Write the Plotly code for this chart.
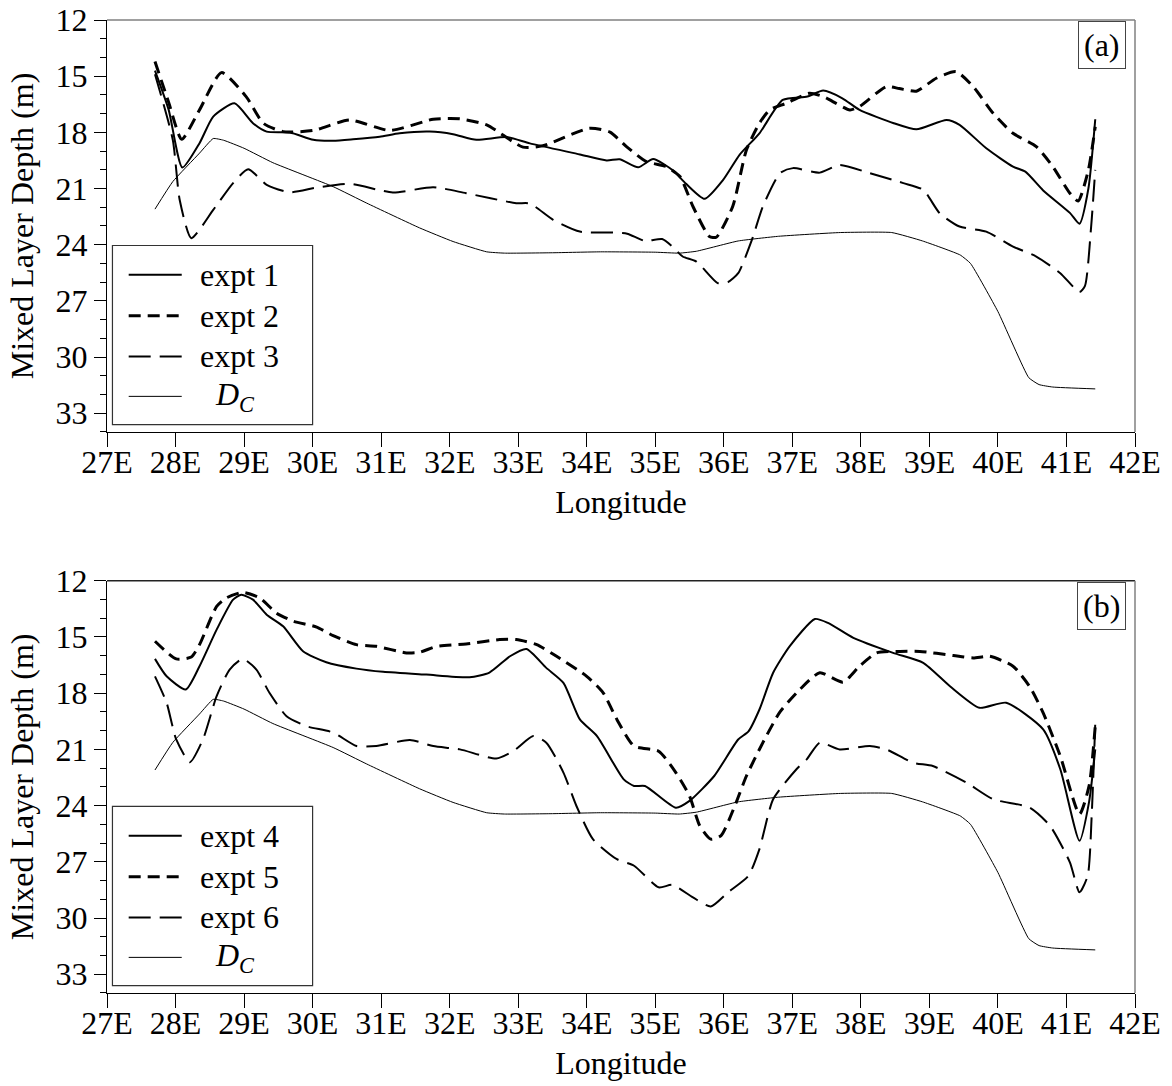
import plotly.graph_objects as go

# ---------------- data ----------------
lon_ticks = list(range(27, 43))
lon_tick_labels = [f"{v}E" for v in lon_ticks]
depth_ticks = [12, 15, 18, 21, 24, 27, 30, 33]

dc_lon = [27.70, 27.96, 28.35, 28.55, 28.70, 29.00, 29.42, 30.30, 30.79, 31.56, 32.05, 32.54, 32.80,
          33.50, 34.20, 35.00, 35.35, 35.60, 36.21, 36.80, 37.70, 38.45, 38.90, 39.45, 39.60, 40.00,
          40.45, 40.60, 40.80, 41.42]
dc_depth = [22.10, 20.63, 19.11, 18.33, 18.42, 18.85, 19.62, 20.90, 21.78, 23.10, 23.83, 24.38, 24.45,
            24.43, 24.38, 24.40, 24.45, 24.35, 23.80, 23.55, 23.35, 23.35, 23.80, 24.55, 25.00, 27.57,
            31.10, 31.47, 31.60, 31.70]

expt1_lon = [27.70, 27.90, 28.10, 28.35, 28.55, 28.86, 29.13, 29.33, 29.67, 30.01, 30.30, 30.59, 30.98,
             31.27, 31.71, 32.05, 32.39, 32.83, 33.17, 33.90, 34.29, 34.48, 34.75, 34.97, 35.26, 35.45,
             35.72, 35.99, 36.23, 36.52, 36.86, 37.22, 37.45, 37.73, 37.98, 38.48, 38.81, 39.25, 39.44,
             39.83, 40.22, 40.40, 40.66, 41.05, 41.19, 41.32, 41.42]
expt1_depth = [14.70, 16.80, 19.88, 18.58, 17.16, 16.45, 17.51, 17.96, 18.01, 18.40, 18.45, 18.37, 18.23,
               18.05, 17.96, 18.10, 18.40, 18.25, 18.59, 19.18, 19.50, 19.44, 19.87, 19.42, 20.04, 20.75,
               21.55, 20.54, 19.20, 18.05, 16.27, 16.09, 15.77, 16.18, 16.80, 17.51, 17.84, 17.34, 17.60,
               18.85, 19.83, 20.10, 21.10, 22.30, 22.88, 21.00, 17.30]

expt2_lon = [27.70, 27.90, 28.09, 28.35, 28.67, 29.03, 29.28, 29.57, 30.01, 30.54, 31.13, 31.76, 32.15,
             32.54, 33.07, 33.36, 34.04, 34.34, 34.58, 34.87, 35.16, 35.36, 35.55, 35.79, 35.89, 36.13,
             36.33, 36.52, 36.67, 36.91, 37.25, 37.45, 37.84, 37.98, 38.37, 38.56, 38.81, 39.10, 39.39,
             39.64, 39.93, 40.22, 40.56, 40.80, 41.05, 41.17, 41.32, 41.42]
expt2_depth = [14.22, 16.40, 18.37, 16.80, 14.81, 16.09, 17.51, 17.96, 17.90, 17.34, 17.90, 17.30, 17.28,
               17.60, 18.79, 18.72, 17.78, 17.99, 18.76, 19.56, 19.83, 20.36, 21.96, 23.56, 23.60, 21.96,
               18.94, 17.51, 16.80, 16.45, 15.91, 16.09, 16.80, 16.62, 15.56, 15.66, 15.80, 15.11, 14.76,
               15.56, 16.98, 18.05, 18.76, 19.83, 21.25, 21.67, 20.00, 17.70]

expt3_lon = [27.70, 27.96, 28.06, 28.23, 28.55, 28.84, 29.06, 29.33, 29.67, 30.06, 30.54, 31.17, 31.76,
             32.24, 32.97, 33.17, 33.51, 33.90, 34.38, 34.59, 34.85, 35.10, 35.25, 35.40, 35.60, 35.91,
             36.06, 36.21, 36.41, 36.57, 36.82, 37.01, 37.40, 37.69, 38.13, 38.62, 38.91, 39.15, 39.44,
             39.83, 40.22, 40.56, 40.91, 41.19, 41.27, 41.36, 41.42]
expt3_depth = [14.90, 18.40, 21.60, 23.65, 22.14, 20.71, 19.97, 20.80, 21.20, 20.95, 20.75, 21.21, 20.93,
               21.25, 21.78, 21.80, 22.67, 23.30, 23.35, 23.41, 23.80, 23.70, 24.10, 24.63, 24.90, 26.05,
               26.00, 25.52, 23.74, 21.96, 20.18, 19.91, 20.15, 19.74, 20.18, 20.71, 21.07, 22.32, 23.03,
               23.30, 24.10, 24.63, 25.52, 26.53, 26.20, 23.03, 20.00]

expt4_lon = [27.70, 27.87, 28.15, 28.35, 28.60, 28.84, 28.96, 29.13, 29.33, 29.57, 29.86, 30.20, 30.64,
             31.03, 31.66, 32.29, 32.58, 32.88, 33.12, 33.41, 33.66, 33.90, 34.15, 34.54, 34.69, 34.85,
             35.30, 35.50, 35.86, 36.21, 36.36, 36.52, 36.72, 36.96, 37.33, 37.52, 37.89, 38.47, 38.91,
             39.30, 39.73, 40.12, 40.66, 40.91, 41.19, 41.33, 41.42]
expt4_depth = [16.17, 17.10, 17.80, 16.56, 14.61, 13.01, 12.75, 13.01, 13.81, 14.43, 15.76, 16.35, 16.69,
               16.86, 17.01, 17.15, 16.90, 16.03, 15.64, 16.65, 17.45, 19.40, 20.29, 22.60, 22.95, 22.95,
               24.11, 23.75, 22.42, 20.47, 20.04, 18.87, 16.91, 15.50, 14.04, 14.25, 15.05, 15.85, 16.38,
               17.63, 18.78, 18.51, 19.93, 22.06, 25.88, 23.80, 21.00]

expt5_lon = [27.70, 28.01, 28.23, 28.35, 28.60, 28.74, 28.98, 29.23, 29.47, 29.72, 30.06, 30.30, 30.64,
             30.93, 31.37, 31.56, 31.81, 32.24, 32.73, 32.97, 33.27, 33.56, 34.00, 34.24, 34.44, 34.69,
             35.05, 35.30, 35.50, 35.65, 35.81, 35.96, 36.16, 36.33, 36.57, 36.82, 37.11, 37.40, 37.74,
             37.98, 38.23, 38.57, 38.86, 39.35, 39.64, 39.88, 40.22, 40.46, 40.66, 40.91, 41.19, 41.33,
             41.42]
expt5_depth = [15.23, 16.17, 16.07, 15.41, 13.37, 12.92, 12.62, 12.92, 13.72, 14.16, 14.47, 14.93, 15.41,
               15.50, 15.85, 15.82, 15.50, 15.37, 15.14, 15.14, 15.41, 16.03, 17.10, 17.98, 19.40, 20.82,
               21.10, 22.24, 23.49, 25.08, 25.79, 25.60, 24.02, 22.42, 20.64, 19.00, 17.80, 16.91, 17.41,
               16.56, 15.85, 15.77, 15.77, 15.99, 16.12, 16.03, 16.56, 17.63, 19.05, 21.36, 24.46, 22.95,
               19.76]

expt6_lon = [27.70, 27.87, 28.01, 28.21, 28.40, 28.60, 28.79, 28.98, 29.18, 29.37, 29.62, 29.91, 30.30,
             30.64, 30.93, 31.42, 31.76, 32.15, 32.68, 32.93, 33.22, 33.41, 33.66, 33.85, 34.09, 34.44,
             34.69, 35.05, 35.25, 35.55, 35.81, 36.06, 36.36, 36.52, 36.72, 37.06, 37.21, 37.40, 37.69,
             38.13, 38.37, 38.76, 39.05, 39.54, 39.93, 40.46, 40.76, 41.05, 41.19, 41.31, 41.37, 41.42]
expt6_depth = [17.10, 18.51, 20.47, 21.68, 20.47, 18.16, 16.74, 16.17, 16.74, 17.98, 19.23, 19.76, 20.10,
               20.82, 20.82, 20.50, 20.82, 21.00, 21.49, 21.09, 20.29, 20.64, 22.24, 24.02, 25.79, 26.86,
               27.21, 28.36, 28.23, 28.90, 29.38, 28.63, 27.74, 26.32, 23.66, 22.06, 21.53, 20.64, 21.00,
               20.82, 21.00, 21.71, 21.89, 22.77, 23.66, 24.10, 25.08, 27.03, 28.63, 27.74, 24.37, 19.60]

panel_a_names = ["expt 1", "expt 2", "expt 3"]
panel_b_names = ["expt 4", "expt 5", "expt 6"]
dc_name = "<i>D</i><sub><i>C</i></sub>"

# ---------------- styles ----------------
FONT = "Liberation Serif"
styles = [
    dict(width=2, dash="solid"),
    dict(width=3, dash="12px,7px"),
    dict(width=2, dash="22px,9px"),
]
dc_style = dict(width=1, dash="solid")

fig = go.Figure()

panels = [
    ("x", "y", [(expt1_lon, expt1_depth), (expt2_lon, expt2_depth), (expt3_lon, expt3_depth)], panel_a_names),
    ("x2", "y2", [(expt4_lon, expt4_depth), (expt5_lon, expt5_depth), (expt6_lon, expt6_depth)], panel_b_names),
]

for xa, ya, series, names in panels:
    for (lx, ly), st, nm in zip(series, styles, names):
        fig.add_trace(go.Scatter(x=lx, y=ly, mode="lines", name=nm, xaxis=xa, yaxis=ya,
                                 line=dict(color="black", shape="spline", smoothing=0.6, **st),
                                 showlegend=False))
    fig.add_trace(go.Scatter(x=dc_lon, y=dc_depth, mode="lines", name="D_C", xaxis=xa, yaxis=ya,
                             line=dict(color="black", shape="spline", smoothing=0.4, **dc_style),
                             showlegend=False))

tickfont = dict(family=FONT, size=32, color="black")


def xaxis_cfg(anchor):
    return dict(
        range=[27, 42], tickmode="array", tickvals=lon_ticks, ticktext=lon_tick_labels,
        ticks="outside", ticklen=14, tickwidth=1.3, tickcolor="black", ticklabelstandoff=-13,
        showline=True, linecolor="black", linewidth=1.3, showgrid=False, zeroline=False,
        tickfont=tickfont, anchor=anchor, domain=[0, 1], automargin=False,
        title=dict(text="Longitude", font=tickfont, standoff=12),
    )


def yaxis_cfg(anchor, domain):
    return dict(
        range=[34, 12], tickmode="array", tickvals=depth_ticks,
        ticks="outside", ticklen=12, tickwidth=1.3, tickcolor="black",
        minor=dict(dtick=1, tick0=12, ticks="outside", ticklen=6, tickwidth=1, tickcolor="black", showgrid=False),
        showline=True, linecolor="black", linewidth=1.3, showgrid=False, zeroline=False,
        tickfont=tickfont, anchor=anchor, domain=domain, automargin=False,
        title=dict(text="Mixed Layer Depth (m)", font=tickfont, standoff=12),
    )


fig.update_layout(
    width=1172, height=1086,
    margin=dict(l=107, r=37, t=20, b=93, autoexpand=False),
    paper_bgcolor="white", plot_bgcolor="white",
    showlegend=False,
    xaxis=xaxis_cfg("y"),
    yaxis=yaxis_cfg("x", [0.5766, 1.0]),
    xaxis2=xaxis_cfg("y2"),
    yaxis2=yaxis_cfg("x2", [0.0, 0.4237]),
)

shapes = []
annotations = []
row_y = [0.3815, 0.2821, 0.1834, 0.0864]
for xa, ya, label, names, top_color in [("x", "y", "(a)", panel_a_names, "#808080"),
                                         ("x2", "y2", "(b)", panel_b_names, "#222222")]:
    xr, yr = f"{xa} domain", f"{ya} domain"
    # frame top and right
    shapes.append(dict(type="line", xref=xr, yref=yr, x0=0, x1=1, y0=1, y1=1,
                       line=dict(color=top_color, width=1.5)))
    shapes.append(dict(type="line", xref=xr, yref=yr, x0=1, x1=1, y0=0, y1=1,
                       line=dict(color="#808080", width=1.5)))
    # legend box
    shapes.append(dict(type="rect", xref=xr, yref=yr, x0=0.0053, x1=0.2, y0=0.0177, y1=0.4526,
                       line=dict(color="#333333", width=1.2), fillcolor="white", layer="above"))
    leg_styles = styles + [dc_style]
    leg_names = names + [dc_name]
    for i, (st, nm) in enumerate(zip(leg_styles, leg_names)):
        shapes.append(dict(type="line", xref=xr, yref=yr, x0=0.0211, x1=0.0727, y0=row_y[i], y1=row_y[i],
                           line=dict(color="black", width=st["width"], dash=st["dash"]), layer="above"))
        annotations.append(dict(xref=xr, yref=yr, x=0.0883 if i < 3 else 0.1029, y=row_y[i],
                                xanchor="left", yanchor="middle", showarrow=False, text=nm,
                                font=dict(family=FONT, size=32, color="black")))
    # panel label
    annotations.append(dict(xref=xr, yref=yr, x=0.991, y=0.997, xanchor="right", yanchor="top",
                            showarrow=False, text=label, bordercolor="#444444", borderwidth=1,
                            borderpad=5, bgcolor="white",
                            font=dict(family=FONT, size=32, color="black")))

fig.update_layout(shapes=shapes, annotations=annotations)

fig.write_html("out.html")
